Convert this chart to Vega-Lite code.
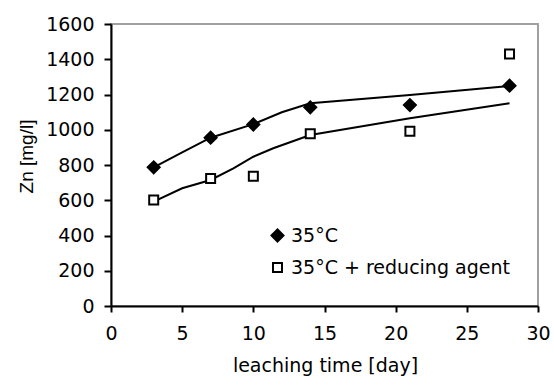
{
  "$schema": "https://vega.github.io/schema/vega-lite/v6.json",
  "width": 427,
  "height": 282,
  "autosize": {"type": "none"},
  "padding": {"left": 111, "top": 24, "right": 16, "bottom": 84},
  "background": "white",
  "config": {
    "view": {"stroke": "#a0a0a0", "strokeWidth": 2},
    "axis": {
      "grid": false,
      "domainColor": "black",
      "domainWidth": 2,
      "tickColor": "black",
      "tickWidth": 2,
      "labelColor": "black",
      "labelFont": "DejaVu Sans",
      "labelFontSize": 19,
      "titleColor": "black",
      "titleFontWeight": "normal",
      "titleFontSize": 19,
      "labelFlush": false,
      "labelOverlap": false
    },
    "legend": {
      "orient": "none",
      "legendX": 157,
      "legendY": 202,
      "labelFont": "DejaVu Sans",
      "labelFontSize": 19,
      "labelColor": "black",
      "labelOffset": 4,
      "rowPadding": 12,
      "symbolStrokeColor": "black",
      "symbolStrokeWidth": 2,
      "labelLimit": 400
    }
  },
  "datasets": {
    "obs": [
      {"series": "35°C", "day": 3, "zn": 787},
      {"series": "35°C", "day": 7, "zn": 955},
      {"series": "35°C", "day": 10, "zn": 1030},
      {"series": "35°C", "day": 14, "zn": 1127},
      {"series": "35°C", "day": 21, "zn": 1140},
      {"series": "35°C", "day": 28, "zn": 1250},
      {"series": "35°C + reducing agent", "day": 3, "zn": 601},
      {"series": "35°C + reducing agent", "day": 7, "zn": 724},
      {"series": "35°C + reducing agent", "day": 10, "zn": 736},
      {"series": "35°C + reducing agent", "day": 14, "zn": 978},
      {"series": "35°C + reducing agent", "day": 21, "zn": 991},
      {"series": "35°C + reducing agent", "day": 28, "zn": 1430}
    ],
    "fit": [
      {"series": "a", "day": 3, "zn": 787},
      {"series": "a", "day": 5, "zn": 871},
      {"series": "a", "day": 7, "zn": 955},
      {"series": "a", "day": 10, "zn": 1032},
      {"series": "a", "day": 12, "zn": 1099},
      {"series": "a", "day": 14, "zn": 1150},
      {"series": "a", "day": 21, "zn": 1197},
      {"series": "a", "day": 28, "zn": 1248},
      {"series": "b", "day": 3, "zn": 592},
      {"series": "b", "day": 5, "zn": 668},
      {"series": "b", "day": 7, "zn": 715},
      {"series": "b", "day": 8.6, "zn": 781},
      {"series": "b", "day": 10, "zn": 847},
      {"series": "b", "day": 11.4, "zn": 895},
      {"series": "b", "day": 14, "zn": 970},
      {"series": "b", "day": 21, "zn": 1065},
      {"series": "b", "day": 28, "zn": 1150}
    ]
  },
  "encoding": {
    "x": {
      "field": "day", "type": "quantitative",
      "scale": {"domain": [0, 30], "nice": false},
      "axis": {
        "values": [0, 5, 10, 15, 20, 25, 30],
        "format": "d",
        "tickSize": 6,
        "labelPadding": 12,
        "title": "leaching time [day]",
        "titleFont": "DejaVu Sans",
        "titleBaseline": "alphabetic",
        "titleX": 214,
        "titleY": 65,
        "titleAnchor": "middle"
      }
    },
    "y": {
      "field": "zn", "type": "quantitative",
      "scale": {"domain": [0, 1600], "nice": false},
      "axis": {
        "values": [0, 200, 400, 600, 800, 1000, 1200, 1400, 1600],
        "format": "d",
        "tickSize": 7,
        "labelPadding": 10,
        "title": "Zn [mg/l]",
        "titleFont": "Liberation Sans",
        "titleColor": "black",
        "titleAngle": -90,
        "titleBaseline": "alphabetic",
        "titleAlign": "center",
        "titleX": -79,
        "titleY": 132
      }
    }
  },
  "layer": [
    {
      "data": {"name": "fit"},
      "mark": {"type": "line", "color": "black", "strokeWidth": 2},
      "encoding": {
        "detail": {"field": "series"}
      }
    },
    {
      "data": {"name": "obs"},
      "mark": {"type": "point", "strokeWidth": 2, "opacity": 1},
      "encoding": {
        "shape": {
          "field": "series", "type": "nominal",
          "scale": {"domain": ["35°C", "35°C + reducing agent"], "range": ["diamond", "square"]},
          "legend": {"title": null}
        },
        "fill": {
          "field": "series", "type": "nominal",
          "scale": {"domain": ["35°C", "35°C + reducing agent"], "range": ["black", "white"]},
          "legend": {"title": null}
        },
        "stroke": {
          "field": "series", "type": "nominal",
          "scale": {"domain": ["35°C", "35°C + reducing agent"], "range": ["black", "black"]},
          "legend": {"title": null}
        },
        "size": {
          "field": "series", "type": "ordinal",
          "scale": {"domain": ["35°C", "35°C + reducing agent"], "range": [144, 81]},
          "legend": {"title": null}
        }
      }
    }
  ]
}
